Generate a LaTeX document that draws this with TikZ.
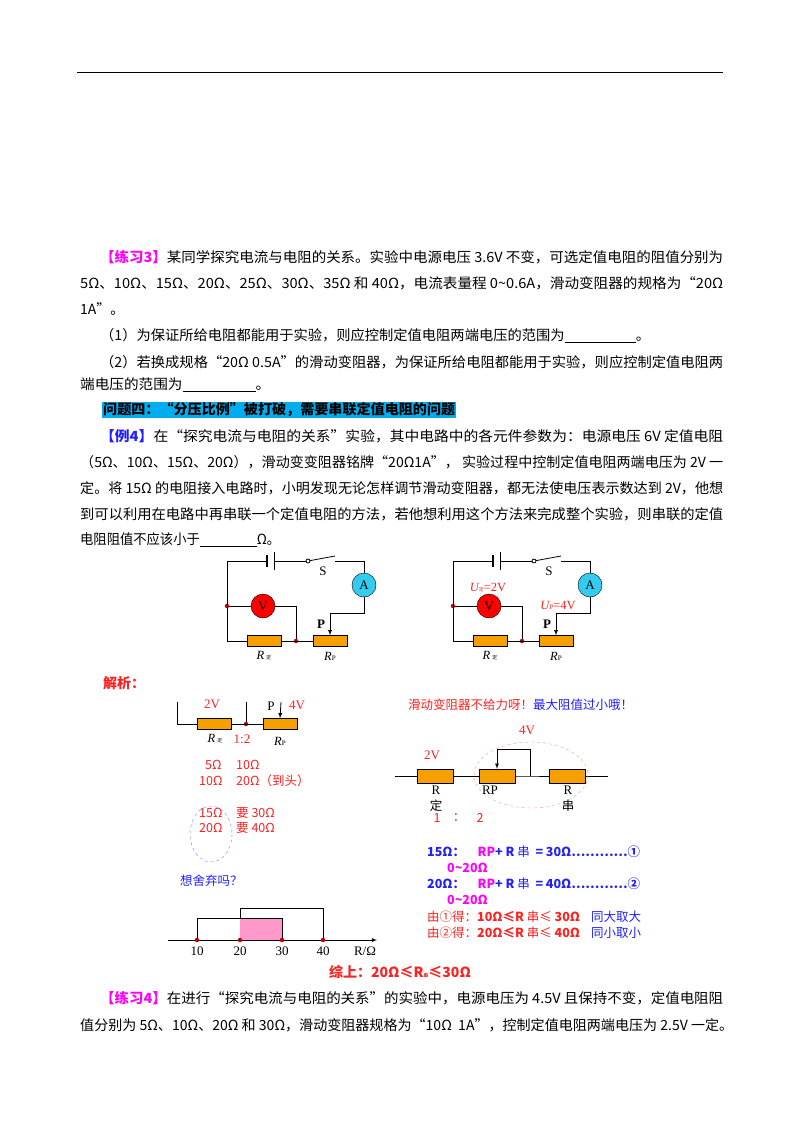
\documentclass[tikz,border=0pt]{standalone}
\usepackage{fontspec}
\usepackage{graphicx}
\setmainfont{Noto Sans CJK SC}
\newfontfamily\serif{Liberation Serif}
\usetikzlibrary{positioning,arrows,shapes}
\newcommand\fitw[2]{\resizebox{#1}{\height}{#2}}
\newcommand\blank[1]{\rule[-2pt]{#1}{0.5pt}}
\definecolor{resfill}{HTML}{F5A000}
\definecolor{amfill}{HTML}{33CCEE}
\definecolor{pinkfill}{HTML}{FF99CC}
\definecolor{myred}{HTML}{FF2020}
\definecolor{myblue}{HTML}{2020FF}
\definecolor{mymag}{HTML}{FF00FF}

\begin{document}
\begin{tikzpicture}[x=1pt,y=-1pt,
    txt/.style={anchor=west,inner sep=0pt,font=\fontsize{14}{14}\selectfont},
    small/.style={inner sep=0pt,font=\fontsize{12.5}{12.5}\selectfont},
    res/.style={draw,fill=resfill,minimum width=34pt,minimum height=11pt,inner sep=0pt},
    meter/.style={circle,draw,minimum size=24pt,inner sep=0pt,font=\serif\fontsize{13}{13}\selectfont},
    dot/.style={circle,fill=red!75!black,inner sep=0pt,minimum size=4.5pt},
    wire/.style={thick}]
    \useasboundingbox (0,0) rectangle (800,1132);
    % header rule
    \draw[thick] (77,72) -- (723,72);
    % exercise 3
    \node[txt] (l1) at (100,257) {\fitw{623pt}{{\color{mymag}\bfseries【练习3】}某同学探究电流与电阻的关系。实验中电源电压 3.6V 不变，可选定值电阻的阻值分别为}};
    \node[txt] (l2) at (80,283) {\fitw{643pt}{5Ω、10Ω、15Ω、20Ω、25Ω、30Ω、35Ω 和 40Ω，电流表量程 0\textasciitilde0.6A，滑动变阻器的规格为“20Ω}};
    \node[txt] (l3) at (80,309) {1A”。};
    \node[txt] (l4) at (100,336) {\fitw{550pt}{（1）为保证所给电阻都能用于实验，则应控制定值电阻两端电压的范围为\blank{70pt}。}};
    \node[txt] (l5) at (100,362) {\fitw{623pt}{（2）若换成规格“20Ω 0.5A”的滑动变阻器，为保证所给电阻都能用于实验，则应控制定值电阻两}};
    \node[txt] (l6) at (80,385) {\fitw{190pt}{端电压的范围为\blank{70pt}。}};
    % problem 4 heading
    \node[txt,fill=cyan,inner sep=1pt] (head) at (102,410) {\fitw{352pt}{\bfseries 问题四：“分压比例”被打破，需要串联定值电阻的问题}};
    \node[txt] (l7) at (100,436) {\fitw{623pt}{{\color{myblue}\bfseries【例4】}在“探究电流与电阻的关系”实验，其中电路中的各元件参数为：电源电压 6V 定值电阻}};
    \node[txt] (l8) at (80,462) {\fitw{643pt}{（5Ω、10Ω、15Ω、20Ω），滑动变变阻器铭牌“20Ω1A”，\ 实验过程中控制定值电阻两端电压为 2V 一}};
    \node[txt] (l9) at (80,488) {\fitw{643pt}{定。将 15Ω 的电阻接入电路时，小明发现无论怎样调节滑动变阻器，都无法使电压表示数达到 2V，他想}};
    \node[txt] (l10) at (80,514) {\fitw{643pt}{到可以利用在电路中再串联一个定值电阻的方法，若他想利用这个方法来完成整个实验，则串联的定值}};
    \node[txt] (l11) at (80,540) {\fitw{200pt}{电阻阻值不应该小于\blank{60pt}Ω。}};
    % circuits
    \foreach \dx/\c in {0/a,226/b}{
      \begin{scope}[xshift=\dx]
        \coordinate (tl\c) at (227,561);
        \coordinate (bl\c) at (227,641);
        \node[meter,fill=amfill] (A\c) at (364,585) {A};
        \node[meter,fill=red,text=black] (V\c) at (263,606) {V};
        \node[res] (R\c) at (264,641) {};
        \node[res] (P\c) at (330,641) {};
        \node[dot] (n\c) at (227,606) {};
        \node[dot] (j\c) at (296,641) {};
        \coordinate (s\c) at (308,561);
        \coordinate (sw\c) at (335,556);
        \draw[wire] (tl\c) -- (267,561);
        \draw[line width=2.5pt] (267,555) -- (267,567);
        \draw[wire] (274,552) -- (274,570);
        \draw[wire] (274,561) -- (s\c);
        \draw[wire] (s\c) -- (sw\c);
        \draw[wire,fill=white] (s\c) circle (2);
        \draw[wire] (335,561) -| (A\c.north);
        \draw[wire] (tl\c) -- (bl\c) -- (R\c.west);
        \draw[wire] (R\c.east) -- (P\c.west);
        \draw[wire] (n\c) -- (V\c) -- (296,606) -- (j\c);
        \draw[wire,-latex] (A\c.south) |- (330,613) -- (P\c.north);
        \node[small,font=\serif\fontsize{13}{13}\selectfont] (S\c) at (323,571) {S};
        \node[small,font=\serif\bfseries\fontsize{13}{13}\selectfont] (Pl\c) at (321,624) {P};
        \node[small] (Rl\c) at (264,656) {{\serif\itshape R}\,{\tiny 定}};
        \node[small] (Pr\c) at (330,656) {{\serif\itshape R}{\serif\scriptsize P}};
      \end{scope}
    }
    \node[small,text=myred] (Ud) at (488,588) {{\serif\itshape U}{\tiny 定}{\serif =2V}};
    \node[small,text=myred] (Up) at (558,605) {{\serif\itshape U}{\serif\scriptsize P}{\serif =4V}};
    % analysis, left
    \node[txt,text=myred] (jx) at (103,683) {\bfseries 解析：};
    \node[res] (R1) at (214,724) {};
    \node[res] (P1) at (280,724) {};
    \node[dot] (j1) at (246,724) {};
    \draw[wire] (177,702) |- (R1.west);
    \draw[wire] (R1.east) -- (P1.west);
    \draw[wire] (j1) -- (246,702);
    \draw[wire,-latex] (281,702) -- (P1.north);
    \node[small,text=myred,font=\serif\fontsize{13}{13}\selectfont] at (212,704) {2V};
    \node[small,font=\serif\fontsize{13}{13}\selectfont] at (271,706) {P};
    \node[small,text=myred,font=\serif\fontsize{13}{13}\selectfont] at (297,705) {4V};
    \node[small] at (215,739) {{\serif\itshape R}\,{\tiny 定}};
    \node[small,text=myred,font=\serif\fontsize{13}{13}\selectfont] at (242,739) {1:2};
    \node[small] at (280,741) {{\serif\itshape R}{\serif\scriptsize P}};
    \begin{scope}[every node/.style={small,text=myred,anchor=west}]
      \node at (205,765) {5Ω};
      \node at (236,765) {10Ω};
      \node at (199,781) {10Ω};
      \node at (236,781) {20Ω（到头）};
      \node at (199,813) {15Ω};
      \node at (236,813) {要 30Ω};
      \node at (199,828) {20Ω};
      \node at (236,828) {要 40Ω};
    \end{scope}
    \draw[myblue!60,dashed] (211,834) ellipse (21 and 28);
    \node[small,text=myblue,anchor=west] (q) at (180,881) {想舍弃吗？};
    % number line
    \coordinate (o) at (168,940);
    \coordinate (e) at (377,940);
    \fill[pinkfill] (240,918) rectangle (282,940);
    \draw[wire] (197,940) |- (282,918) -- (282,940);
    \draw[wire] (240,918) |- (323,908) -- (323,940);
    \draw[wire,-latex] (o) -- (e);
    \foreach \x/\v in {197/10,240/20,282/30,323/40}{
      \node[dot] at (\x,940) {};
      \node[small,font=\serif\fontsize{13}{13}\selectfont] at (\x,951) {\v};
    }
    \node[small,font=\serif\fontsize{13}{13}\selectfont] at (365,951) {R/Ω};
    % analysis, right
    \node[small,anchor=west] (t) at (408,705) {{\color{myred}滑动变阻器不给力呀！}{\color{myblue}最大阻值过小哦！}};
    \node[res,minimum width=36pt,minimum height=14pt] (Rd) at (435,776) {};
    \node[res,minimum width=36pt,minimum height=14pt] (Rp) at (497,776) {};
    \node[res,minimum width=36pt,minimum height=14pt] (Rc) at (567,776) {};
    \draw[wire] (395,776) -- (Rd.west);
    \draw[wire] (Rd.east) -- (Rp.west);
    \draw[wire] (Rp.east) -- (530,776) -- (Rc.west);
    \draw[wire] (Rc.east) -- (608,776);
    \draw[wire,-latex] (530,776) -- (530,749) -| (Rp.north);
    \draw[red!40,dashed] (531,775) ellipse (57 and 33);
    \node[small,text=myred,font=\serif\fontsize{13}{13}\selectfont] at (432,755) {2V};
    \node[small,text=myred,font=\serif\fontsize{13}{13}\selectfont] at (527,730) {4V};
    \node[small,font=\serif\fontsize{13}{13}\selectfont] at (436,790) {R};
    \node[small] at (436,806) {定};
    \node[small,font=\serif\fontsize{13}{13}\selectfont] at (490,790) {RP};
    \node[small,font=\serif\fontsize{13}{13}\selectfont] at (568,790) {R};
    \node[small] at (568,806) {串};
    \node[small,text=myred] at (437,818) {1};
    \node[small,text=myred] at (459,818) {：};
    \node[small,text=myred] at (480,818) {2};
    \begin{scope}[every node/.style={small,anchor=west,font=\bfseries\fontsize{12.5}{12.5}\selectfont}]
      \node at (427,852) {{\color{myblue}15Ω：}\quad{\color{mymag}RP}{\color{myblue} + R {\mdseries 串}\ \ = 30Ω…………①}};
      \node[text=mymag] at (447,868) {0\textasciitilde20Ω};
      \node at (427,884) {{\color{myblue}20Ω：}\quad{\color{mymag}RP}{\color{myblue} + R {\mdseries 串}\ \ = 40Ω…………②}};
      \node[text=mymag] at (447,900) {0\textasciitilde20Ω};
      \node[text=myred] at (427,917) {{\mdseries 由①得：}10Ω≤R {\mdseries 串≤} 30Ω};
      \node[text=myred] at (427,933) {{\mdseries 由②得：}20Ω≤R {\mdseries 串≤} 40Ω};
      \node[text=myblue,font=\fontsize{12.5}{12.5}\selectfont] at (591,917) {同大取大};
      \node[text=myblue,font=\fontsize{12.5}{12.5}\selectfont] at (591,933) {同小取小};
    \end{scope}
    \node[txt,anchor=center,text=myred] (sum) at (400,972) {\bfseries 综上：20Ω≤{\itshape R}{\tiny 串}≤30Ω};
    % exercise 4
    \node[txt] (l12) at (100,998) {\fitw{623pt}{{\color{mymag}\bfseries【练习4】}在进行“探究电流与电阻的关系”的实验中，电源电压为 4.5V 且保持不变，定值电阻阻}};
    \node[txt] (l13) at (80,1025) {\fitw{653pt}{值分别为 5Ω、10Ω、20Ω 和 30Ω，滑动变阻器规格为“10Ω\ \ 1A”，控制定值电阻两端电压为 2.5V 一定。}};
\end{tikzpicture}
\end{document}
